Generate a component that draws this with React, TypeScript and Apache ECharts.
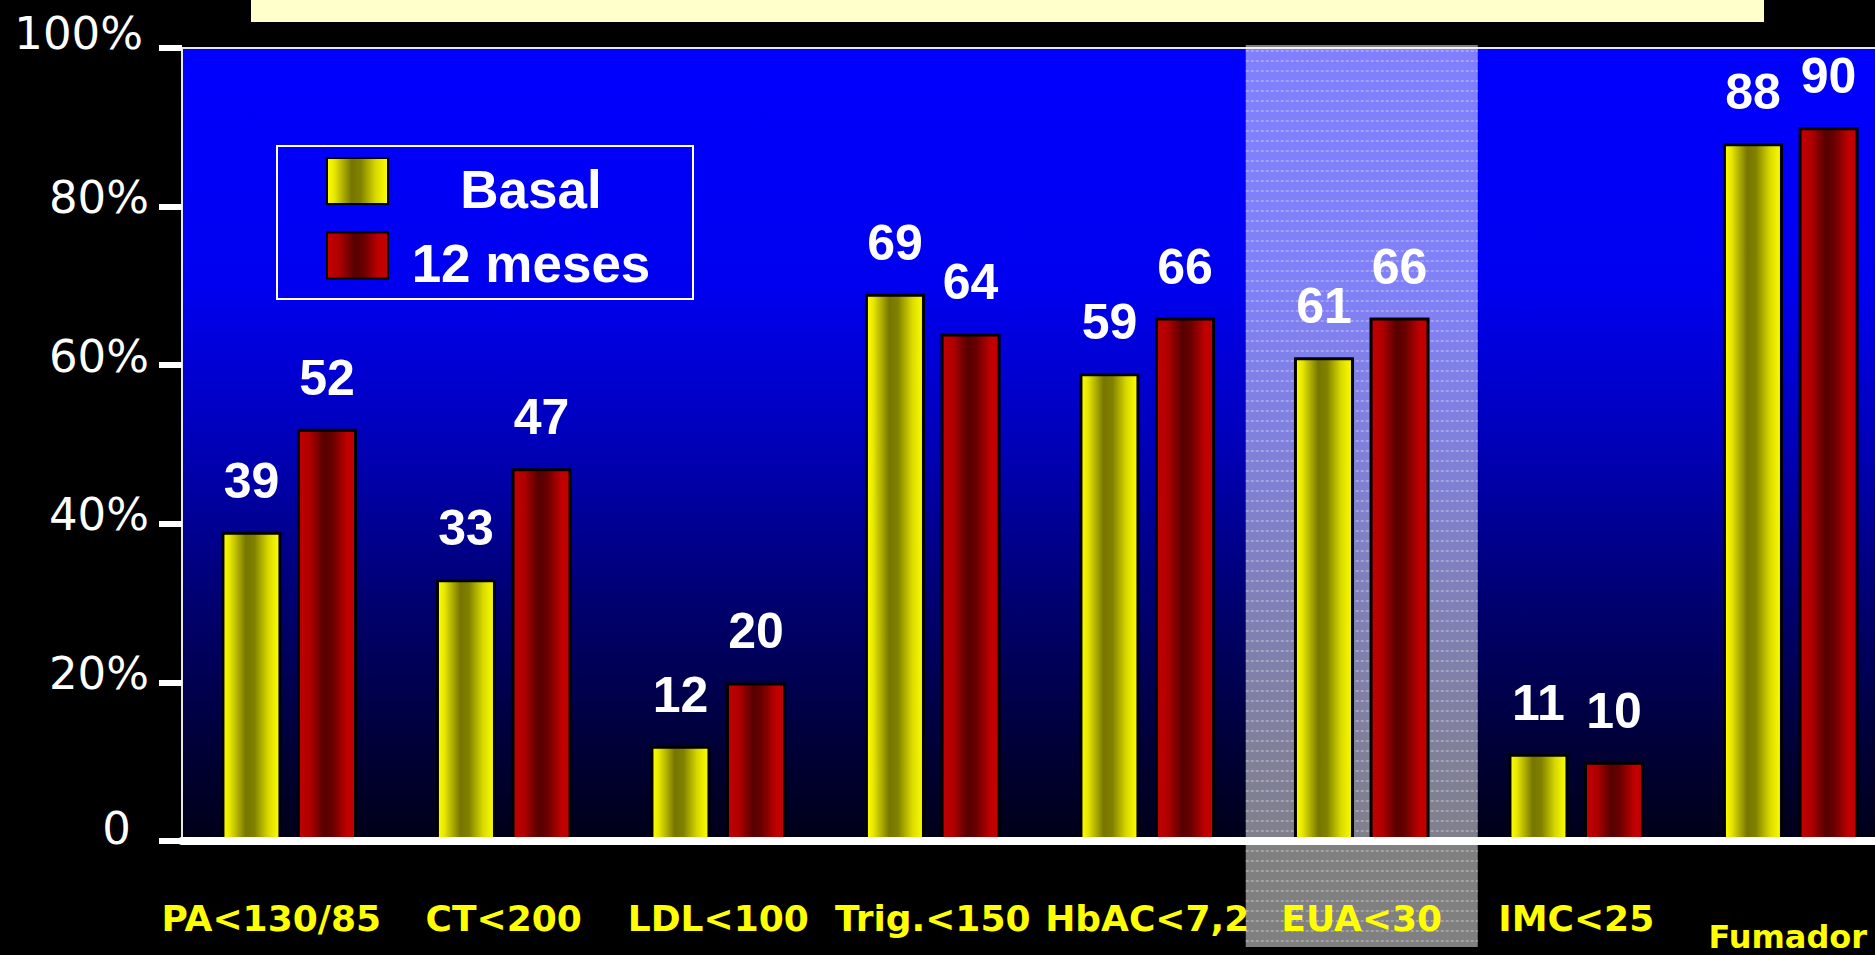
import React, { useEffect, useRef } from 'react';
import * as echarts from 'echarts';

const categories = ['PA<130/85', 'CT<200', 'LDL<100', 'Trig.<150', 'HbAC<7,2', 'EUA<30', 'IMC<25', 'Fumador'];
const basal = [39, 33, 12, 69, 59, 61, 11, 88];
const meses12 = [52, 47, 20, 64, 66, 66, 10, 90];
const seriesNames = ['Basal', '12 meses'];
const yMin = 0;
const yMax = 100;
const yStep = 20;
const highlighted = 'EUA<30';
const lowered = 'Fumador';
const leftShifted = 'PA<130/85';

export default function App() {
  const ref = useRef<HTMLDivElement>(null);
  useEffect(() => {
    document.body.style.margin = '0';
    document.body.style.background = '#000';
    document.body.style.overflow = 'hidden';
    const chart = echarts.init(ref.current!, null, { renderer: 'svg' });

    const yellow = new echarts.graphic.LinearGradient(0, 0, 1, 0, [
      { offset: 0, color: '#ffff00' },
      { offset: 0.12, color: '#e8e800' },
      { offset: 0.4, color: '#767600' },
      { offset: 0.55, color: '#808000' },
      { offset: 0.8, color: '#dada00' },
      { offset: 1, color: '#ffff00' },
    ]);
    const red = new echarts.graphic.LinearGradient(0, 0, 1, 0, [
      { offset: 0, color: '#c40000' },
      { offset: 0.2, color: '#b00000' },
      { offset: 0.45, color: '#560000' },
      { offset: 0.6, color: '#6a0000' },
      { offset: 0.85, color: '#c00000' },
      { offset: 1, color: '#c40000' },
    ]);
    const bg = new echarts.graphic.LinearGradient(0, 0, 0, 1, [
      { offset: 0, color: '#0000ff' },
      { offset: 0.3, color: '#0000f0' },
      { offset: 0.5, color: '#0000b8' },
      { offset: 0.7, color: '#000070' },
      { offset: 0.88, color: '#000038' },
      { offset: 1, color: '#000018' },
    ]);

    const labelStyle = {
      show: true,
      position: 'top',
      distance: 26,
      color: '#ffffff',
      fontFamily: 'Liberation Sans',
      fontWeight: 'bold',
      fontSize: 50,
    };

    const xFont = {
      color: '#ffff00',
      fontFamily: 'DejaVu Sans',
      fontWeight: 'bold',
      fontSize: 36,
    };
    const yFont = {
      color: '#ffffff',
      fontFamily: 'DejaVu Sans',
      fontSize: 45,
      lineHeight: 18,
    };

    const option: any = {
      animation: false,
      backgroundColor: '#000000',
      grid: {
        left: 182,
        top: 48,
        bottom: 114,
        right: -23,
        outerBoundsMode: 'none',
        containLabel: false,
        show: true,
        backgroundColor: bg,
        borderColor: '#e6e6e6',
        borderWidth: 2,
      },
      legend: {
        left: 277,
        top: 146,
        orient: 'vertical',
        icon: 'rect',
        itemWidth: 61,
        itemHeight: 46,
        itemGap: 16,
        padding: [11, 24, 9, 49],
        borderColor: '#ffffff',
        borderWidth: 2,
        data: seriesNames,
        formatter: '{a|{name}}',
        textStyle: {
          color: '#ffffff',
          fontFamily: 'Liberation Sans',
          fontWeight: 'bold',
          fontSize: 53,
          padding: [16, 0, 0, 0],
          rich: {
            a: {
              width: 276,
              align: 'center',
              color: '#ffffff',
              fontFamily: 'Liberation Sans',
              fontWeight: 'bold',
              fontSize: 53,
              lineHeight: 53,
            },
          },
        },
      },
      xAxis: {
        type: 'category',
        data: categories,
        z: 3,
        axisLine: { show: true, lineStyle: { color: '#ffffff', width: 8 } },
        axisTick: { show: false },
        axisLabel: {
          interval: 0,
          margin: 59,
          ...xFont,
          formatter: (v: string) =>
            v === lowered ? '{f|' + v + '}' : v === leftShifted ? '{p|' + v + '}' : v,
          rich: {
            f: { ...xFont, fontSize: 32, padding: [21, 6, 0, 0] },
            p: { ...xFont, padding: [0, 36, 0, 0] },
          },
        },
      },
      yAxis: {
        type: 'value',
        min: yMin,
        max: yMax,
        interval: yStep,
        splitLine: { show: false },
        axisLine: { show: true, lineStyle: { color: '#e6e6e6', width: 2 } },
        axisTick: { show: true, length: 23, lineStyle: { color: '#ffffff', width: 6 } },
        axisLabel: {
          margin: 33,
          ...yFont,
          verticalAlign: 'bottom',
          formatter: (v: number) => (v === 0 ? '{z|0}' : v === 100 ? '{h|100%}' : v + '%'),
          rich: {
            z: { ...yFont, lineHeight: 26, padding: [0, 18, 0, 0] },
            h: { ...yFont, lineHeight: 30, padding: [0, 6, 0, 0] },
          },
        },
      },
      series: [
        {
          name: seriesNames[0],
          type: 'bar',
          data: basal,
          barWidth: 60,
          barGap: '26%',
          itemStyle: { color: yellow, borderColor: '#000000', borderWidth: 3 },
          label: labelStyle,
        },
        {
          name: seriesNames[1],
          type: 'bar',
          data: meses12,
          barWidth: 60,
          barGap: '26%',
          itemStyle: { color: red, borderColor: '#000000', borderWidth: 3 },
          label: labelStyle,
        },
      ],
    };

    chart.setOption(option);

    const cx = chart.convertToPixel({ xAxisIndex: 0 }, highlighted) as number;
    const yTop = (chart.convertToPixel({ yAxisIndex: 0 }, yMax) as number) - 3;
    const halfW = 116;
    const yBottom = 947;
    const elements: any[] = [
      {
        type: 'rect',
        shape: { x: 251, y: 0, width: 1513, height: 22 },
        style: { fill: '#ffffcc' },
        z: 5,
        silent: true,
      },
      {
        type: 'rect',
        shape: { x: cx - halfW, y: yTop, width: halfW * 2, height: yBottom - yTop },
        style: { fill: 'rgba(255,255,255,0.5)' },
        z: 1,
        silent: true,
      },
    ];
    for (let y = yTop + 6; y < yBottom; y += 10) {
      elements.push({
        type: 'line',
        shape: { x1: cx - halfW, y1: y, x2: cx + halfW, y2: y },
        style: { stroke: 'rgba(255,255,255,0.55)', lineWidth: 1, lineDash: [3, 2] },
        z: 1,
        silent: true,
      });
    }
    chart.setOption({ graphic: { elements } });

    return () => chart.dispose();
  }, []);
  return <div ref={ref} style={{ width: 1875, height: 955 }} />;
}
